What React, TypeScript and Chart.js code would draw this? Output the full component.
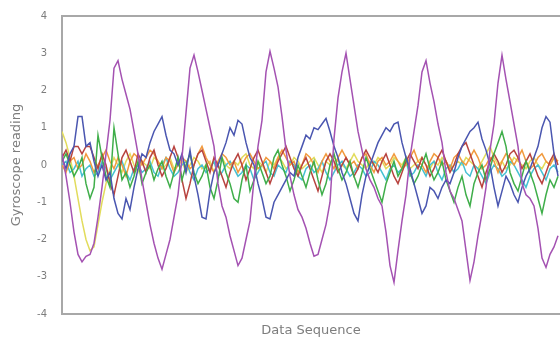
import React, { useEffect, useRef } from "react";
import { Chart, registerables } from "chart.js";

Chart.register(...registerables);

const yTicks = [-4, -3, -2, -1, 0, 1, 2, 3, 4];
const yTitle = "Gyroscope reading";
const xTitle = "Data Sequence";

const purple = [
  0.3, -0.3, -1.0, -1.8, -2.4, -2.6, -2.45, -2.4, -2.1, -1.4,
  -0.6, 0.3, 1.2, 2.6, 2.8, 2.3, 1.9, 1.5, 0.9, 0.3,
  -0.4, -1.0, -1.6, -2.1, -2.5, -2.8, -2.4, -2.0, -1.4, -0.8,
  0.2, 1.4, 2.6, 2.95, 2.5, 2.0, 1.5, 1.0, 0.5, -0.5,
  -1.1, -1.4, -1.9, -2.3, -2.7, -2.5, -2.0, -1.5, -0.4, 0.5,
  1.2, 2.5, 3.05, 2.6, 2.1, 1.3, 0.4, -0.3, -0.8, -1.2,
  -1.4, -1.7, -2.1, -2.45, -2.4, -2.0, -1.6, -1.0, 0.7, 1.8,
  2.5, 3.0, 2.3, 1.6, 0.9, 0.4, -0.1, -0.4, -0.6, -0.9,
  -1.1, -1.8, -2.7, -3.15, -2.3, -1.5, -0.8, 0.2, 0.9, 1.6,
  2.5, 2.8, 2.2, 1.7, 1.1, 0.6, -0.2, -0.7, -0.9, -1.2,
  -1.5, -2.3, -3.1, -2.6, -1.9, -1.3, -0.6, 0.4, 1.1, 2.2,
  2.95, 2.3, 1.7, 1.1, 0.5, -0.5, -0.8, -0.9, -1.1, -1.7,
  -2.5, -2.75, -2.4, -2.2, -1.9,
];

const blue = [
  0.2, -0.1, 0.3, 0.5, 1.3, 1.3, 0.5, 0.6, 0.1, -0.3,
  0.0, -0.4, -0.2, -0.9, -1.3, -1.45, -0.9, -1.2, -0.6, -0.1,
  0.3, 0.2, 0.6, 0.9, 1.1, 1.3, 0.8, 0.4, 0.3, 0.0,
  0.3, -0.2, 0.4, -0.3, -0.8, -1.4, -1.45, -0.7, -0.2, 0.0,
  0.3, 0.6, 1.0, 0.8, 1.2, 1.1, 0.6, 0.2, 0.0, -0.5,
  -0.9, -1.4, -1.45, -1.0, -0.8, -0.6, -0.4, -0.2, -0.3, 0.2,
  0.5, 0.8, 0.7, 1.0, 0.95, 1.1, 1.25, 0.9, 0.5, 0.2,
  -0.2, -0.5, -0.9, -1.3, -1.5, -0.8, -0.3, 0.0, 0.3, 0.6,
  0.8, 1.0, 0.9, 1.1, 1.15, 0.6, 0.2, -0.1, -0.5, -0.9,
  -1.3, -1.1, -0.6, -0.7, -0.9, -0.6, -0.4, -0.5, -0.2, 0.2,
  0.5, 0.7, 0.9, 1.0, 1.15, 0.7, 0.4, 0.0, -0.6, -1.1,
  -0.7, -0.3, -0.5, -0.8, -1.0, -0.6, -0.3, -0.1, 0.2, 0.5,
  1.0, 1.3, 1.15, 0.3, -0.3,
];

const green = [
  0.1, 0.3, 0.0, -0.3, -0.1, 0.2, -0.5, -0.9, -0.6, 0.8,
  0.2, -0.3, -0.6, 1.0, 0.3, -0.4, -0.2, -0.6, -0.3, 0.1,
  -0.5, -0.2, 0.0, -0.4, -0.1, 0.1, -0.3, -0.6, -0.2, 0.2,
  -0.4, 0.0, 0.3, -0.2, -0.5, -0.3, 0.0, -0.6, -0.9, -0.4,
  0.2, -0.2, -0.5, -0.9, -1.0, -0.4, 0.0, -0.7, -0.4, 0.1,
  -0.2, -0.5, -0.3, 0.2, 0.4, 0.0, -0.3, -0.7, -0.4, 0.0,
  -0.3, -0.6, -0.2, 0.1, -0.4, -0.8, -0.5, 0.0, 0.3, -0.1,
  -0.4, -0.2, 0.1, -0.3, -0.6, -0.2, 0.2, -0.1, -0.4, -0.7,
  -1.0, -0.5, -0.2, 0.1, -0.3, -0.1, 0.2, -0.2, -0.5, -0.3,
  0.0, 0.3, -0.1, -0.4, -0.2, 0.1, -0.4, -0.7, -1.0, -0.6,
  -0.3, -0.8, -1.1, -0.5, -0.2, 0.0, -0.4, -0.1, 0.3, 0.6,
  0.9, 0.5, -0.2, -0.5, -0.7, -0.3, 0.1, -0.2, -0.5, -0.9,
  -1.3, -0.8, -0.4, -0.6, -0.3,
];

const red = [
  0.2, 0.4, 0.1, 0.5, 0.5, 0.3, 0.5, 0.5, 0.2, -0.1,
  0.3, 0.0, -0.5, -0.8, -0.3, 0.2, 0.4, 0.1, -0.2, 0.3,
  0.1, -0.2, 0.2, 0.4, 0.0, -0.3, -0.1, 0.2, 0.5, 0.2,
  -0.4, -0.9, -0.5, 0.0, 0.3, 0.4, 0.1, -0.2, 0.2, 0.0,
  -0.3, -0.6, -0.2, 0.1, 0.3, 0.0, -0.4, -0.1, 0.2, 0.4,
  0.1, -0.2, -0.5, -0.2, 0.1, 0.3, 0.5, 0.2, -0.1, -0.3,
  0.0, 0.2, -0.1, -0.4, -0.7, -0.3, 0.1, 0.3, 0.1, -0.2,
  0.0, 0.2, 0.0, -0.3, -0.1, 0.2, 0.4, 0.2, 0.0, -0.2,
  0.1, 0.3, 0.0, -0.3, -0.5, -0.2, 0.1, 0.3, 0.1, -0.1,
  0.2, 0.0, -0.3, -0.1, 0.2, 0.4, 0.1, -0.2, 0.0, 0.3,
  0.5, 0.6, 0.3, 0.0, -0.3, -0.6, -0.2, 0.1, 0.3, 0.1,
  -0.2, 0.0, 0.3, 0.4, 0.2, -0.1, 0.1, 0.3, 0.0, -0.3,
  -0.5, -0.2, 0.1, 0.3, 0.0,
];

const orange = [
  0.0, -0.2, 0.1, 0.2, -0.1, 0.0, 0.3, 0.1, -0.2, 0.0,
  0.2, 0.4, 0.1, -0.1, 0.2, 0.0, -0.3, 0.1, 0.3, 0.2,
  0.0, 0.2, 0.4, 0.3, 0.1, -0.1, 0.2, 0.1, -0.2, 0.0,
  0.2, 0.1, -0.1, 0.0, 0.3, 0.5, 0.2, 0.0, -0.2, 0.1,
  0.3, 0.2, 0.0, 0.1, -0.2, 0.0, 0.2, 0.3, 0.1, -0.1,
  0.0, 0.2, 0.1, -0.1, 0.2, 0.4, 0.2, 0.0, 0.1, -0.2,
  0.0, 0.3, 0.2, 0.0, -0.2, 0.1, 0.3, 0.1, -0.1, 0.2,
  0.4, 0.2, 0.0, 0.1, -0.1, 0.2, 0.3, 0.0, -0.2, 0.1,
  0.2, 0.0, 0.1, 0.3, 0.1, -0.1, 0.0, 0.2, 0.4, 0.1,
  0.0, -0.2, 0.1, 0.3, 0.2, 0.0, 0.1, -0.1, 0.2, 0.3,
  0.1, 0.0, 0.2, 0.4, 0.2, -0.1, 0.0, 0.2, 0.1, -0.2,
  0.1, 0.3, 0.2, 0.0, 0.2, 0.4, 0.1, -0.1, 0.0, 0.2,
  0.3, 0.1, 0.0, 0.2, 0.1,
];

const cyan = [
  0.0, 0.1, -0.2, -0.1, 0.1, -0.3, -0.1, 0.0, -0.3, -0.2,
  0.1, -0.1, -0.4, -0.2, 0.0, 0.1, -0.2, -0.4, -0.1, 0.0,
  -0.2, -0.1, 0.1, -0.2, -0.3, 0.0, 0.2, -0.1, -0.3, -0.2,
  0.0, 0.1, -0.2, -0.4, -0.1, 0.0, -0.2, -0.1, 0.1, -0.3,
  -0.2, 0.0, 0.1, -0.1, -0.3, -0.2, 0.0, -0.1, -0.4, -0.2,
  0.0, 0.1, -0.2, -0.3, 0.0, -0.1, -0.2, 0.1, 0.0, -0.3,
  -0.4, -0.1, 0.0, -0.2, -0.1, 0.1, -0.2, -0.4, -0.2, 0.0,
  0.1, -0.1, -0.3, -0.2, 0.0, -0.1, -0.3, -0.2, 0.1, 0.0,
  -0.2, -0.4, -0.1, 0.0, -0.2, -0.1, 0.1, -0.3, -0.2, 0.0,
  -0.1, -0.3, 0.0, 0.1, -0.2, -0.4, -0.1, 0.0, -0.2, -0.1,
  0.1, -0.2, -0.3, 0.0, -0.1, -0.3, -0.5, -0.2, 0.0, -0.1,
  -0.3, -0.2, 0.1, 0.0, -0.2, -0.4, -0.6, -0.3, -0.1, 0.0,
  -0.2, -0.4, -0.1, 0.0, -0.2,
];

const yellow = [
  0.9, 0.6, 0.2, -0.3, -0.9, -1.5, -2.0, -2.3, -2.2, -1.6,
  -1.0, -0.5, -0.1, 0.2, 0.0, -0.2, 0.1, 0.3, 0.0, -0.2,
  0.1, 0.0, -0.1, 0.2, 0.1, -0.1, 0.0, 0.2, -0.1, 0.0,
  0.1, -0.2, 0.0, 0.2, 0.1, -0.1, 0.0, 0.1, -0.2, 0.0,
  0.2, 0.0, -0.1, 0.1, 0.0, 0.2, 0.3, 0.0, -0.1, 0.1,
  0.0, -0.2, 0.1, 0.0, 0.2, 0.1, -0.1, 0.0, 0.2, 0.1,
  -0.1, 0.0, 0.1, 0.2, 0.0, -0.2, 0.1, 0.0, 0.2, 0.1,
  0.0, -0.1, 0.1, 0.3, 0.1, 0.0, -0.1, 0.1, 0.0, 0.2,
  0.1, -0.1, 0.0, 0.2, 0.1, 0.0, 0.2, -0.1, 0.0, 0.1,
  0.2, 0.0, -0.1, 0.1, 0.0, 0.2, 0.1, -0.1, 0.0, 0.1,
  0.0, 0.2, 0.1, 0.0, -0.1, 0.1, 0.3, 0.5, 0.2, 0.0,
  0.1, -0.1, 0.0, 0.2, 0.1, 0.0, -0.1, 0.1, 0.2, 0.0,
  -0.1, 0.1, 0.0, 0.2, 0.1,
];

const seriesList: { values: number[]; color: string }[] = [
  { values: purple, color: "#a452b2" },
  { values: blue, color: "#4a56b0" },
  { values: green, color: "#3fae4a" },
  { values: red, color: "#b8433f" },
  { values: orange, color: "#f19a3e" },
  { values: cyan, color: "#45c0d2" },
  { values: yellow, color: "#e2dc5c" },
];

const FONT = "'DejaVu Sans', sans-serif";
const GRAY = "#7d7d7d";
const BORDER = "#a8a8a8";

export default function App() {
  const ref = useRef<HTMLCanvasElement | null>(null);

  useEffect(() => {
    if (!ref.current) return;
    const chart = new Chart(ref.current, {
      type: "line",
      data: {
        datasets: seriesList.map((s) => ({
          data: s.values.map((v, i) => ({ x: i, y: v })),
          borderColor: s.color,
          backgroundColor: s.color,
          borderWidth: 1.5,
          pointRadius: 0,
          tension: 0,
          fill: false,
        })),
      },
      options: {
        responsive: false,
        animation: false,
        layout: { padding: 0 },
        plugins: {
          legend: { display: false },
          tooltip: { enabled: false },
        },
        scales: {
          x: {
            type: "linear",
            position: "bottom",
            min: 0,
            max: 124.5,
            grid: { display: false, drawTicks: false },
            border: { display: true, color: BORDER, width: 2 },
            ticks: { display: false },
            title: {
              display: true,
              text: xTitle,
              color: GRAY,
              font: { family: FONT, size: 13 },
              padding: { top: 0, bottom: 2 },
            },
            afterFit: (s: any) => {
              s.height = 26;
            },
          },
          xTop: {
            type: "linear",
            axis: "x",
            position: "top",
            min: 0,
            max: 1,
            grid: { display: false, drawTicks: false },
            border: { display: true, color: BORDER, width: 2 },
            ticks: { display: false },
            afterFit: (s: any) => {
              s.height = 16;
            },
          },
          y: {
            type: "linear",
            min: -4,
            max: 4,
            afterBuildTicks: (s: any) => {
              s.ticks = yTicks.map((v) => ({ value: v }));
            },
            grid: { display: false, drawTicks: false },
            border: { display: true, color: BORDER, width: 2 },
            ticks: {
              color: GRAY,
              font: { family: FONT, size: 10 },
              padding: 15,
            },
            title: {
              display: true,
              text: yTitle,
              color: GRAY,
              font: { family: FONT, size: 13 },
              padding: { top: 9, bottom: 0 },
            },
            afterFit: (s: any) => {
              s.width = 62;
              s.paddingTop = 0;
              s.paddingBottom = 0;
            },
          },
        },
      },
    });
    return () => chart.destroy();
  }, []);

  return (
    <div
      style={{
        position: "fixed",
        left: 0,
        top: 0,
        width: 560,
        height: 340,
        overflow: "hidden",
        background: "#fff",
      }}
    >
      <canvas ref={ref} width={560} height={340} />
    </div>
  );
}
